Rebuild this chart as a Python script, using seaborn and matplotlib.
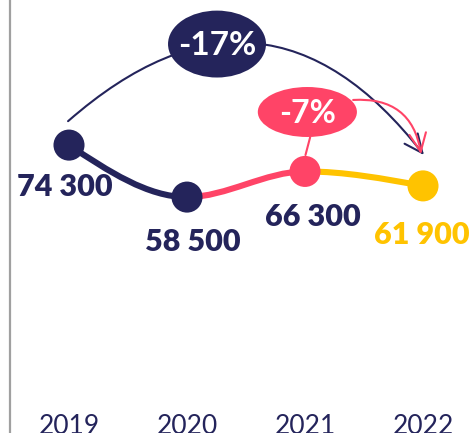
import numpy as np
import pandas as pd
import matplotlib
matplotlib.use("Agg")
import matplotlib.pyplot as plt
from matplotlib.path import Path
from matplotlib.patches import PathPatch, Ellipse
from matplotlib.lines import Line2D
import seaborn as sns

# ---- data ----
years = ["2019", "2020", "2021", "2022"]
values = [74300, 58500, 66300, 61900]
value_labels = ["74 300", "58 500", "66 300", "61 900"]
point_groups = ["a", "a", "b", "c"]
change_total = "-17%"
change_last = "-7%"

NAVY = "#24245B"
PINK = "#FF4467"
YELLOW = "#FFC300"
palette = {"a": NAVY, "b": PINK, "c": YELLOW}

sns.set_theme(style="white")
plt.rcParams["font.family"] = ["Lato", "DejaVu Sans"]

df = pd.DataFrame({"pos": np.arange(len(years)), "value": values, "grp": point_groups})

fig = plt.figure(figsize=(4.75, 4.33), dpi=100)
ax = fig.add_axes([10 / 475, 25 / 433, 472 / 475, 408 / 433])

# smooth monotone-x curve segments (d3 curveMonotoneX style tangents)
x = df["pos"].to_numpy(dtype=float)
y = df["value"].to_numpy(dtype=float)
n = len(x)
t = np.zeros(n)
for i in range(1, n - 1):
    h0, h1 = x[i] - x[i - 1], x[i + 1] - x[i]
    s0, s1 = (y[i] - y[i - 1]) / h0, (y[i + 1] - y[i]) / h1
    p = (s0 * h1 + s1 * h0) / (h0 + h1)
    t[i] = (np.sign(s0) + np.sign(s1)) * min(abs(s0), abs(s1), 0.5 * abs(p))
t[0] = (3 * (y[1] - y[0]) / (x[1] - x[0]) - t[1]) / 2
t[-1] = (3 * (y[-1] - y[-2]) / (x[-1] - x[-2]) - t[-2]) / 2

for i in range(n - 1):
    dx = (x[i + 1] - x[i]) / 3
    verts = [(x[i], y[i]), (x[i] + dx, y[i] + dx * t[i]),
             (x[i + 1] - dx, y[i + 1] - dx * t[i + 1]), (x[i + 1], y[i + 1])]
    path = Path(verts, [Path.MOVETO, Path.CURVE4, Path.CURVE4, Path.CURVE4])
    ax.add_patch(PathPatch(path, fill=False, lw=4.4,
                           edgecolor=palette[point_groups[i + 1]],
                           capstyle="round", zorder=2))

sns.scatterplot(data=df, x="pos", y="value", hue="grp", palette=palette,
                s=500, linewidth=0, legend=False, zorder=3, ax=ax)

# value labels
label_offsets = [(-3, -30), (4, -32), (6, -33), (-1, -35)]
label_colors = [NAVY, NAVY, NAVY, YELLOW]
for i in range(n):
    ax.annotate(value_labels[i], (x[i], y[i]), xytext=label_offsets[i],
                textcoords="offset points", ha="center", va="center",
                fontsize=22, fontweight="heavy", color=label_colors[i], zorder=5)

# big arc arrow (-17%)
ax.annotate("", xy=(0.877, 0.620), xytext=(0.123, 0.703),
            xycoords="axes fraction", textcoords="axes fraction",
            arrowprops=dict(arrowstyle="->,head_length=1.1,head_width=0.5",
                            color=NAVY, lw=1.5,
                            connectionstyle="arc3,rad=-0.53",
                            shrinkA=0, shrinkB=0), zorder=1)
ax.add_patch(Ellipse((0.4386, 0.892), 0.2076, 0.164, transform=ax.transAxes,
                     facecolor=NAVY, edgecolor="none", zorder=4))
ax.text(0.4386, 0.889, change_total, transform=ax.transAxes, ha="center",
        va="center", color="white", fontsize=24, fontweight="bold", zorder=5)

# small arrow (-7%)
ax.annotate("", xy=(0.871, 0.622), xytext=(0.727, 0.755),
            xycoords="axes fraction", textcoords="axes fraction",
            arrowprops=dict(arrowstyle="->,head_length=1.1,head_width=0.5",
                            color=PINK, lw=1.5,
                            connectionstyle="arc3,rad=-0.45",
                            shrinkA=0, shrinkB=0), zorder=1)
ax.plot([0.636, 0.626], [0.664, 0.62], transform=ax.transAxes, color=PINK,
        lw=1.5, zorder=1)
ax.add_patch(Ellipse((0.630, 0.7255), 0.21, 0.1225, transform=ax.transAxes,
                     facecolor=PINK, edgecolor="none", zorder=4))
ax.text(0.630, 0.723, change_last, transform=ax.transAxes, ha="center",
        va="center", color="white", fontsize=23, fontweight="bold", zorder=5)

ax.set_xlim(-0.5, 3.5)
ax.set_ylim(-5600, 118400)
ax.set_xticks(x)
ax.set_xticklabels(years, fontsize=19, fontweight="normal", color=NAVY)
ax.set_yticks([])
ax.tick_params(axis="x", length=0, pad=4, colors=NAVY)
ax.set_xlabel("")
ax.set_ylabel("")
for s in ["top", "right", "bottom", "left"]:
    ax.spines[s].set_visible(False)
fig.add_artist(Line2D([10 / 475, 10 / 475], [0, 1], transform=fig.transFigure,
                      color="#A0A0A0", lw=1.6))

fig.savefig("out.png", dpi=100)
